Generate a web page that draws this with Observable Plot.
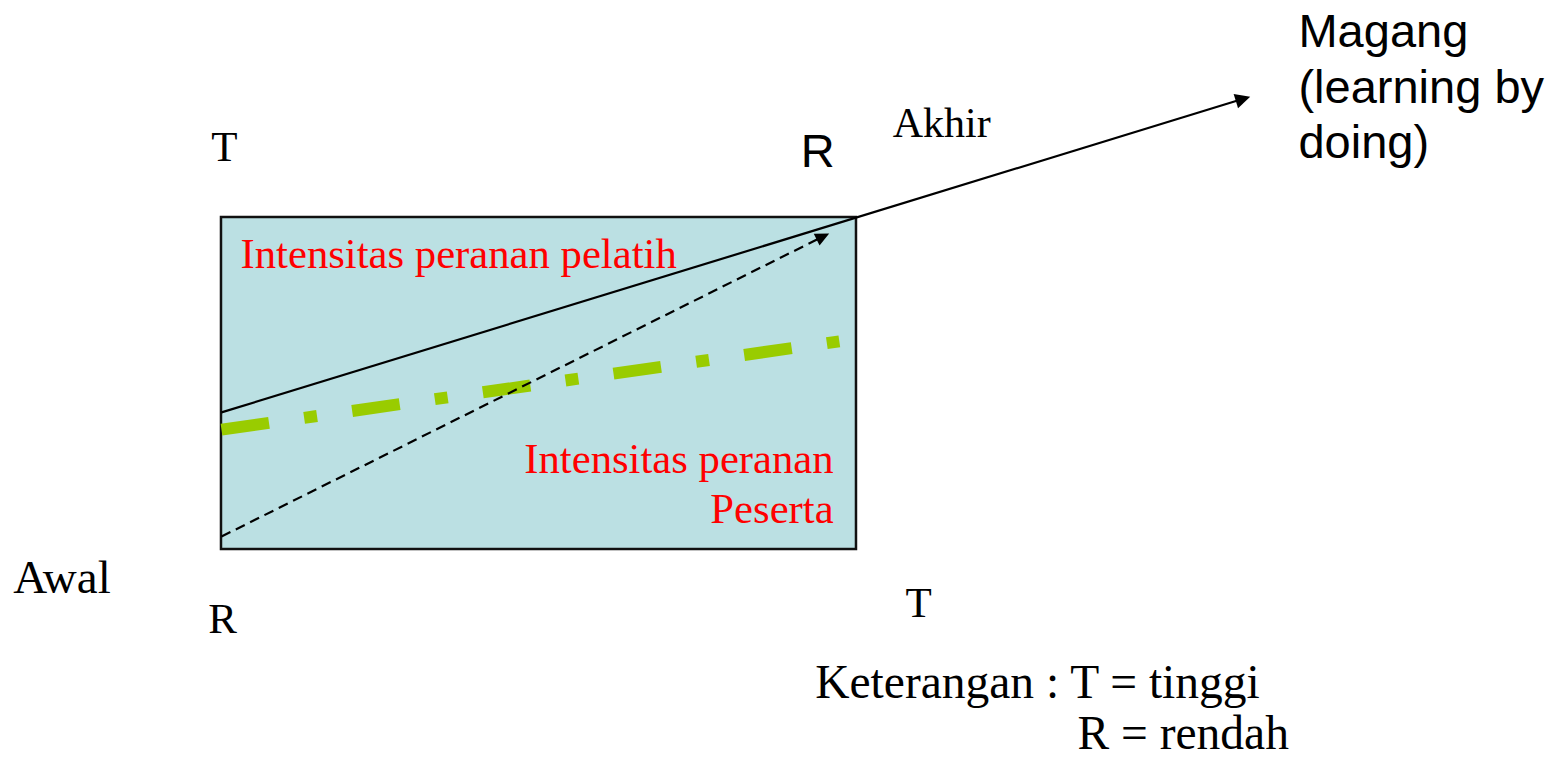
<!DOCTYPE html>
<html><head><meta charset="utf-8">
<script src="https://cdn.jsdelivr.net/npm/d3@7"></script>
<script src="https://cdn.jsdelivr.net/npm/@observablehq/plot@0.6"></script>
<style>html,body{margin:0;padding:0;background:#fff;overflow:hidden}</style>
</head><body><div id="chart"></div>
<script>
// Diagram coordinates: time 0 (Awal) → 100 (Akhir); intensity 0 (R = rendah) → 100 (T = tinggi)
const box = [{x1: 0, x2: 100, y1: 0, y2: 100}];
const trainerLine = [{x: 0, y: 41.3}, {x: 162.0, y: 136.4}];      // Intensitas peranan pelatih (solid, arrow)
const participantLine = [{x: 0, y: 3.9}, {x: 95.7, y: 95.2}];     // Intensitas peranan peserta (dashed, arrow)
const greenLine = [{x: 0, y: 36.1}, {x: 97.3, y: 62.7}];          // dash-dot green line

const cornerLabels = [
  {x: 0.47, y: 116.9, text: "T", anchor: "middle"},
  {x: 0.16, y: -25.0, text: "R", anchor: "middle"},
  {x: 109.8, y: -20.2, text: "T", anchor: "middle"}
];
const akhirLabel = [{x: 105.7, y: 124.1, text: "Akhir", anchor: "start"}];
const awalLabel = [{x: -32.8, y: -13.0, text: "Awal", anchor: "start"}];
const legendLabels = [
  {x: 93.5, y: -44.6, text: "Keterangan : T = tinggi", anchor: "start"},
  {x: 134.8, y: -60.2, text: "R = rendah", anchor: "start"}
];
const redLabels = [
  {x: 3.0, y: 84.9, text: "Intensitas peranan pelatih", anchor: "start"},
  {x: 96.4, y: 8.1, text: "Intensitas peranan\nPeserta", anchor: "end"}
];
const sansLabels = [
  {x: 93.9, y: 115.1, text: "R", anchor: "middle"},
  {x: 169.6, y: 117.8, text: "Magang\n(learning by\ndoing)", anchor: "start"}
];

const W = 1555, H = 760;
const xDomain = [-34.80, 210.08], yDomain = [-63.55, 165.36];
const xs = d3.scaleLinear(xDomain, [0, W]);
const ys = d3.scaleLinear(yDomain, [H, 0]);

function arrowParts(line, len) {
  const a = line[0], b = line[line.length - 1];
  const dxp = xs(b.x) - xs(a.x), dyp = ys(b.y) - ys(a.y);
  const d = Math.hypot(dxp, dyp);
  const sx = xs(b.x) - dxp / d * (len - 1), sy = ys(b.y) - dyp / d * (len - 1);
  const shaft = [a, {x: xs.invert(sx), y: ys.invert(sy)}];
  const head = [{x: b.x, y: b.y, rotate: Math.atan2(dxp, -dyp) * 180 / Math.PI}];
  return {shaft, head};
}
const tri = (w) => ({draw(ctx, l) { ctx.moveTo(0, -l); ctx.lineTo(-w, 0); ctx.lineTo(w, 0); ctx.closePath(); }});

const tA = arrowParts(trainerLine, 15);
const pA = arrowParts(participantLine, 14);

const serif = "Liberation Serif, Times New Roman, serif";
const sans = "Liberation Sans, Arial, sans-serif";

function texts(data, opts) {
  return ["start", "middle", "end"].map(a =>
    Plot.text(data.filter(d => d.anchor === a), {x: "x", y: "y", text: "text", textAnchor: a, lineAnchor: "bottom", ...opts}));
}

const plot = Plot.plot({
  width: W, height: H, margin: 0,
  x: {domain: xDomain, range: [0, W], axis: null},
  y: {domain: yDomain, range: [H, 0], axis: null},
  style: {background: "white", overflow: "visible"},
  marks: [
    Plot.rect(box, {x1: "x1", x2: "x2", y1: "y1", y2: "y2", fill: "#BBE0E3", stroke: "#111", strokeWidth: 2.5}),
    Plot.line(greenLine, {x: "x", y: "y", stroke: "#99CC00", strokeWidth: 12, strokeLinecap: "butt", strokeDasharray: "48,35.5,13,35.5"}),
    Plot.line(tA.shaft, {x: "x", y: "y", stroke: "black", strokeWidth: 2.2, strokeLinecap: "butt"}),
    Plot.vector(tA.head, {x: "x", y: "y", rotate: "rotate", length: 15, anchor: "end", shape: tri(7.5), fill: "black", stroke: "none"}),
    Plot.line(pA.shaft, {x: "x", y: "y", stroke: "black", strokeWidth: 2.2, strokeLinecap: "butt", strokeDasharray: "10,6"}),
    Plot.vector(pA.head, {x: "x", y: "y", rotate: "rotate", length: 14, anchor: "end", shape: tri(6.5), fill: "black", stroke: "none"}),
    ...texts(cornerLabels, {fill: "black", fontFamily: serif, fontSize: 43}),
    ...texts(akhirLabel, {fill: "black", fontFamily: serif, fontSize: 42}),
    ...texts(awalLabel, {fill: "black", fontFamily: serif, fontSize: 47}),
    ...texts(legendLabels, {fill: "black", fontFamily: serif, fontSize: 47.5}),
    ...texts(redLabels, {fill: "#FF0000", fontFamily: serif, fontSize: 42.7, lineHeight: 1.17}),
    ...texts(sansLabels, {fill: "black", fontFamily: sans, fontSize: 47, lineHeight: 1.18})
  ]
});
document.getElementById("chart").appendChild(plot);
</script>
</body></html>
